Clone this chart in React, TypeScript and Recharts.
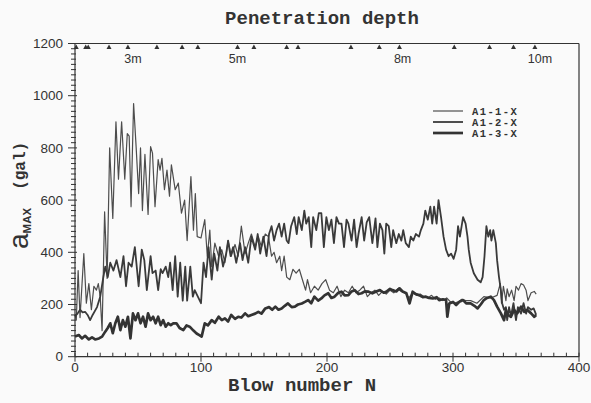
import React from 'react';
import { LineChart, Line, XAxis, YAxis, ReferenceDot, ReferenceLine, Legend } from 'recharts';

const W = 591;
const H = 403;

// ---------- data ----------
const seriesNames = ['A1-1-X', 'A1-2-X', 'A1-3-X'];

const a11Blows = [0, 1, 2.5, 4, 7, 9, 11, 13, 15, 17,
  18.5, 20, 21.5, 23.5, 25.5, 27.5, 30, 32.5, 34.5, 37,
  39.5, 41.5, 43, 44.5, 46.5, 48.5, 50.5, 52, 53.5, 55.5,
  58, 60, 61.5, 63.5, 66, 67.5, 69, 71, 73, 75,
  76.5, 79.5, 82, 84.5, 87, 89, 92, 94, 95.5, 97,
  100, 103, 105, 107, 108.5, 111, 114, 116.5, 119, 121.5,
  124, 127, 129.5, 132, 135, 137.5, 140, 143, 145.5, 148,
  151, 153.5, 156, 158, 160, 162.5, 164, 166, 168, 170.5,
  173, 175.5, 178, 180.5, 183, 184.5, 187, 190, 193, 196,
  199, 202, 205, 208, 211, 214, 217, 220, 223, 226,
  229, 232, 235, 238, 241, 244, 247, 250, 253, 256,
  259, 262, 265, 268, 271, 274, 277, 280, 283, 286,
  289, 292, 295, 298, 301, 304, 307, 310, 314, 319,
  324.5, 330, 335, 337.5, 338.5, 340, 342, 343, 344.5, 346.5,
  348.5, 350, 352, 354, 356, 358, 359.5, 362, 364.5, 366];
const a11Values = [160, 140, 330, 150, 395, 205, 280, 180, 270, 255,
  280, 230, 100, 555, 300, 800, 530, 900, 680, 900,
  680, 855, 845, 575, 970, 805, 625, 800, 560, 775,
  545, 805, 780, 575, 755, 715, 760, 640, 715, 615,
  735, 640, 665, 550, 600, 445, 690, 485, 625, 460,
  455, 525, 385, 485, 345, 435, 385, 410, 360, 445,
  385, 430, 385, 500, 395, 435, 470, 420, 460, 420,
  470, 460, 385, 400, 360, 385, 330, 385, 305, 295,
  335, 320, 335, 295, 255, 295, 245, 270, 255, 280,
  295, 255, 245, 270, 230, 255, 245, 270, 245, 255,
  270, 230, 245, 255, 235, 250, 240, 255, 245, 260,
  250, 245, 225, 245, 235, 240, 230, 225, 235, 220,
  225, 215, 225, 210, 205, 210, 220, 215, 215, 205,
  230, 225, 235, 280, 205, 270, 215, 260, 230, 255,
  215, 270, 255, 280, 275, 255, 215, 245, 250, 240];

const a12Blows = [0, 2, 4, 6, 8, 10, 12, 14, 17.5, 20,
  22.5, 24, 26, 28, 30.5, 33, 36, 38.5, 40.5, 42.5,
  45, 47.5, 50.5, 53, 55, 57, 60, 61.5, 64, 66,
  68, 69.5, 72, 74, 75.5, 77.5, 79.5, 81.5, 83.5, 85.5,
  87.5, 89, 91.5, 93.5, 95, 97.5, 100, 102, 104, 106,
  108.5, 110.5, 113, 115, 117.5, 120, 121.5, 123.5, 125.5, 128,
  131, 133, 135, 137.5, 140, 143, 145, 147, 149.5, 152,
  154, 156, 158, 160, 162, 164, 166, 168, 169.5, 171.5,
  174, 176, 177.5, 180, 182, 183.5, 185.5, 187.5, 189, 191.5,
  193.5, 195.5, 197.5, 199.5, 201.5, 203.5, 205.5, 207.5, 209.5, 211.5,
  213.5, 215.5, 217, 219.5, 221.5, 223.5, 225, 227.5, 229.5, 231.5,
  233.5, 236, 238.5, 240, 242, 244, 245.5, 247, 249, 251,
  252.5, 255, 257, 259, 260.5, 262.5, 265, 266.5, 268.5, 270.5,
  273, 274.5, 276.5, 278, 280, 282, 283.5, 285, 287, 288.5,
  290.5, 292.5, 294.5, 296.5, 298.5, 300.5, 302.5, 304, 305.5, 308,
  310, 311.5, 312.5, 314, 316.5, 319.5, 322, 323.5, 325, 326.5,
  328, 329.5, 330.5, 332, 334, 335, 336.5, 338, 339, 340.5,
  342, 343, 344.5, 346, 348, 350, 351.5, 354, 356, 358,
  359.5, 362, 364, 366];
const a12Values = [155, 165, 180, 170, 172, 160, 140, 160, 190, 230,
  305, 345, 305, 360, 330, 370, 305, 385, 270, 360,
  345, 420, 270, 410, 370, 255, 385, 320, 330, 255,
  335, 320, 345, 305, 360, 255, 385, 230, 360, 215,
  345, 215, 345, 230, 255, 230, 205, 360, 305, 420,
  295, 395, 330, 420, 345, 395, 445, 385, 420, 360,
  435, 370, 420, 360, 460, 410, 470, 395, 460, 385,
  470, 500, 445, 485, 510, 460, 510, 445, 435, 500,
  535, 470, 535, 485, 560, 510, 535, 420, 535, 485,
  550, 550, 420, 535, 485, 525, 435, 535, 510, 510,
  420, 525, 510, 445, 525, 420, 470, 535, 445, 515,
  535, 435, 530, 420, 510, 485, 395, 510, 500, 420,
  485, 435, 470, 445, 485, 435, 420, 460, 445, 470,
  460, 485, 510, 560, 525, 575, 510, 575, 510, 600,
  535, 460, 410, 385, 395, 375, 410, 500, 460, 535,
  510, 460, 410, 360, 320, 295, 285, 305, 385, 500,
  460, 485, 445, 485, 435, 370, 305, 255, 205, 180,
  190, 140, 190, 155, 205, 140, 190, 165, 205, 165,
  190, 180, 185, 160];

const a13Blows = [0, 3, 5.5, 8, 11, 13.5, 16, 19, 21.5, 24,
  26, 28, 30, 32, 34, 36, 38, 40, 42, 44,
  46, 48, 50, 52, 54, 56, 58, 60, 62, 64,
  66, 68, 70, 72, 74, 76, 78, 80.5, 83, 86,
  88.5, 91, 94, 96.5, 99, 100.5, 103, 105.5, 108.5, 111,
  114, 116.5, 119, 121.5, 124, 127, 129.5, 132, 135, 137.5,
  140, 143, 145.5, 148, 151, 154, 156.5, 159, 161.5, 164,
  166.5, 169, 172, 174.5, 177, 180, 182.5, 185, 187.5, 190,
  193, 195.5, 198, 201, 203.5, 206, 209, 211.5, 214, 217,
  219.5, 222, 225, 227.5, 230, 233, 236, 239, 242, 245,
  247, 250, 252, 255, 257.5, 260, 263, 265.5, 268, 270.5,
  273, 276, 278.5, 281, 284, 287, 289, 292, 294.5, 295.5,
  297, 300, 302.5, 305, 308, 310.5, 314, 317, 319.5, 322,
  324.5, 327, 330, 332.5, 335, 338, 340.5, 342, 343.5, 346,
  348.5, 351, 354, 356.5, 359, 362, 364.5, 366];
const a13Values = [77, 83, 70, 80, 66, 74, 66, 70, 77, 96,
  110, 128, 90, 128, 153, 102, 140, 115, 153, 70,
  166, 140, 166, 128, 153, 115, 166, 140, 153, 128,
  153, 121, 140, 115, 128, 121, 128, 128, 110, 102,
  120, 115, 100, 89, 82, 77, 128, 120, 140, 130,
  153, 140, 147, 135, 160, 145, 153, 150, 166, 155,
  160, 165, 172, 165, 185, 190, 180, 192, 180, 185,
  195, 204, 190, 192, 200, 204, 210, 217, 205, 230,
  215, 223, 235, 243, 225, 230, 245, 249, 235, 236,
  250, 255, 240, 243, 250, 249, 243, 250, 255, 245,
  249, 260, 255, 250, 262, 250, 243, 204, 249, 240,
  236, 228, 230, 225, 223, 228, 217, 220, 217, 153,
  204, 210, 198, 210, 217, 204, 204, 195, 185, 200,
  217, 225, 230, 217, 192, 166, 140, 180, 160, 153,
  179, 166, 192, 172, 179, 166, 153, 160];

const xTickLabels = [0, 100, 200, 300, 400];
const yTickLabels = [0, 200, 400, 600, 800, 1000, 1200];
const depthMarkerBlows = [1, 8.5, 10.5, 27, 42, 65, 85, 97.5, 129, 142, 168, 177, 219, 241.5, 257.5, 301, 329, 348, 365];
const depthLabels = ['3m', '5m', '8m', '10m'];
const depthLabelBlows = [46, 129, 260, 369];

// ---------- derived ----------
const toData = (blows: number[], vals: number[]) => blows.map((n, i) => ({ n, v: vals[i] }));
const seriesData = [toData(a11Blows, a11Values), toData(a12Blows, a12Values), toData(a13Blows, a13Values)];
const seriesWidths = [1.2, 1.8, 2.7];
const seriesColors = ['#4d4d4d', '#3a3a3a', '#333333'];

const minorX = Array.from({ length: 41 }, (_, i) => i * 10);
const minorY = Array.from({ length: 61 }, (_, i) => i * 20);

const INK = '#333';
const SANS = '"Liberation Sans", Arial, sans-serif';
const MONO = '"Liberation Mono", "Courier New", monospace';

const YTick = (p: any) => {
  const { x, y, payload } = p;
  const major = yTickLabels.includes(payload.value);
  return (
    <g>
      <line x1={x - (major ? 7 : 4)} x2={x + (major ? 2 : 1)} y1={y} y2={y} stroke={INK} strokeWidth={1} />
      {major && (
        <text x={x - 12} y={y} dy="0.35em" textAnchor="end" fontSize={13.5} fontFamily={SANS} fill={INK}>
          {payload.value}
        </text>
      )}
    </g>
  );
};

const XTick = (p: any) => {
  const { x, y, payload } = p;
  const major = xTickLabels.includes(payload.value);
  return (
    <g>
      <line x1={x} x2={x} y1={y - 4} y2={y + (major ? 5 : 0)} stroke={INK} strokeWidth={1} />
      {major && (
        <text x={x} y={y + 6} dy="0.71em" textAnchor="middle" fontSize={13.5} fontFamily={SANS} fill={INK}>
          {payload.value}
        </text>
      )}
    </g>
  );
};

const TopTick = (p: any) => {
  const { x, y, payload } = p;
  const big = payload.value % 100 === 0;
  return <line x1={x} x2={x} y1={y} y2={y - (big ? 8 : 4)} stroke={INK} strokeWidth={1} />;
};

const LegendContent = (props: any) => {
  const payload = props.payload || [];
  return (
    <svg width={100} height={40} style={{ display: 'block' }}>
      {payload.map((e: any, i: number) => (
        <g key={i}>
          <line x1={3} x2={33} y1={8 + i * 11} y2={8 + i * 11} stroke={seriesColors[i]} strokeWidth={seriesWidths[i]} />
          <text x={42} y={8 + i * 11} dy="0.35em" fontSize={10.5} letterSpacing={1.4} fontWeight="bold" fontFamily={MONO} fill={INK}>
            {e.value}
          </text>
        </g>
      ))}
    </svg>
  );
};

export default function App() {
  return (
    <div style={{ position: 'absolute', left: 0, top: 0, width: W, height: H, background: '#fafafa' }}>
      <LineChart width={W} height={H} margin={{ top: 31.5, right: 12, bottom: 16.3, left: 30 }}>
        <XAxis
          xAxisId="x"
          dataKey="n"
          type="number"
          domain={[0, 400]}
          ticks={minorX}
          interval={0}
          height={30}
          tickSize={0}
          tickMargin={0}
          tickLine={false}
          axisLine={{ stroke: INK, strokeWidth: 1.2 }}
          tick={XTick}
        />
        <XAxis
          xAxisId="top"
          orientation="top"
          dataKey="n"
          type="number"
          domain={[0, 400]}
          ticks={minorX}
          interval={0}
          height={12}
          tickSize={0}
          tickMargin={0}
          tickLine={false}
          axisLine={{ stroke: INK, strokeWidth: 1.2 }}
          tick={TopTick}
        />
        <YAxis
          yAxisId="y"
          type="number"
          domain={[0, 1200]}
          ticks={minorY}
          interval={0}
          width={45}
          tickSize={0}
          tickMargin={0}
          tickLine={false}
          axisLine={{ stroke: INK, strokeWidth: 1.2 }}
          tick={YTick}
        />
        <ReferenceLine xAxisId="x" yAxisId="y" x={400} stroke={INK} strokeWidth={1.2} ifOverflow="visible" />
        {depthMarkerBlows.map((b, i) => (
          <ReferenceDot
            key={'m' + i}
            xAxisId="x"
            yAxisId="y"
            x={b}
            y={1200}
            ifOverflow="visible"
            shape={(p: any) => (
              <path d={`M${p.cx},${p.cy + 1}L${p.cx - 2.5},${p.cy + 5.5}L${p.cx + 2.5},${p.cy + 5.5}Z`} fill={INK} />
            )}
          />
        ))}
        {depthLabels.map((lab, i) => (
          <ReferenceDot
            key={'l' + i}
            xAxisId="x"
            yAxisId="y"
            x={depthLabelBlows[i]}
            y={1200}
            ifOverflow="visible"
            shape={(p: any) => (
              <text x={p.cx} y={p.cy + 19.5} textAnchor="middle" fontSize={12.5} fontFamily={SANS} fill={INK}>
                {lab}
              </text>
            )}
          />
        ))}
        {seriesData.map((d, i) => (
          <Line
            key={seriesNames[i]}
            xAxisId="x"
            yAxisId="y"
            data={d}
            dataKey="v"
            name={seriesNames[i]}
            type="linear"
            stroke={seriesColors[i]}
            strokeWidth={seriesWidths[i]}
            strokeLinejoin="round"
            dot={false}
            isAnimationActive={false}
          />
        ))}
        <Legend
          layout="horizontal"
          align="center"
          verticalAlign="middle"
          content={LegendContent}
          wrapperStyle={{ left: 430, top: 103, width: 100, height: 40 }}
        />
      </LineChart>
      <svg
        width={W}
        height={H}
        style={{ position: 'absolute', left: 0, top: 0, pointerEvents: 'none' }}
      >
        <text x={322} y={24} textAnchor="middle" fontSize={19} fontWeight="bold" fontFamily={MONO} fill={INK}>
          Penetration depth
        </text>
        <text x={302} y={391} textAnchor="middle" fontSize={19} fontWeight="bold" fontFamily={MONO} fill={INK}>
          Blow number N
        </text>
        <text transform="translate(28,249) rotate(-90)" fontFamily={SANS} fill={INK}>
          <tspan fontSize={28}>a</tspan>
          <tspan fontSize={11.5} dy={3} fontWeight="bold">MAX</tspan>
          <tspan dx={18} dy={-6} fontSize={16} fontWeight="bold" fontFamily={MONO}>(gal)</tspan>
        </text>
      </svg>
    </div>
  );
}
